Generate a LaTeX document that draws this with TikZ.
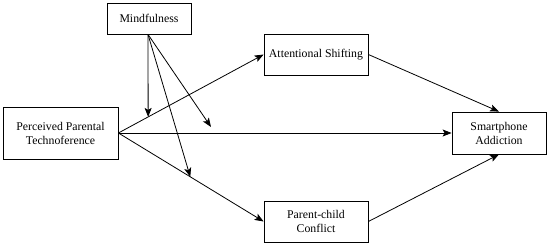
\documentclass[tikz,border=0pt]{standalone}
\usepackage{fontspec}
\setmainfont{Liberation Serif}
\usetikzlibrary{arrows.meta,calc}
\begin{document}
\begin{tikzpicture}[x=1pt,y=-1pt,
  box/.style={draw,line width=0.8pt,align=center,inner sep=0pt,font=\fontsize{11.8}{14}\selectfont},
  arr/.style={line width=0.8pt,-{Stealth[length=9pt,width=7pt,inset=2pt]}}]
\useasboundingbox (0,0) rectangle (550,246);
\node[box,minimum width=84pt,minimum height=31pt] (mind) at (149,18.5) {Mindfulness};
\node[box,minimum width=115pt,minimum height=52pt] (perc) at (60.5,133) {Perceived Parental\\Technoference};
\node[box,minimum width=104pt,minimum height=41pt] (att) at (316,54.5) {Attentional Shifting};
\node[box,minimum width=94pt,minimum height=42pt] (sa) at (499,133) {Smartphone\\Addiction};
\node[box,minimum width=104pt,minimum height=41pt] (pc) at (316,221.5) {Parent-child\\Conflict};
\coordinate (ms) at ($(mind.south)+(-1,0)$);
\coordinate (m1) at ($(perc.east)!0.205!(att.west)$);
\coordinate (m2) at (211,127);
\coordinate (m3) at ($(perc.east)!0.495!(pc.west)$);
\draw[arr] (perc.east) -- (att.west);
\draw[arr] (perc.east) -- (sa.west);
\draw[arr] (perc.east) -- (pc.west);
\draw[arr] (att.east) -- (sa.north);
\draw[arr] (pc.east) -- (sa.south);
\draw[arr] (ms) -- (m1);
\draw[arr] (ms) -- (m2);
\draw[arr] (ms) -- (m3);
\end{tikzpicture}
\end{document}
